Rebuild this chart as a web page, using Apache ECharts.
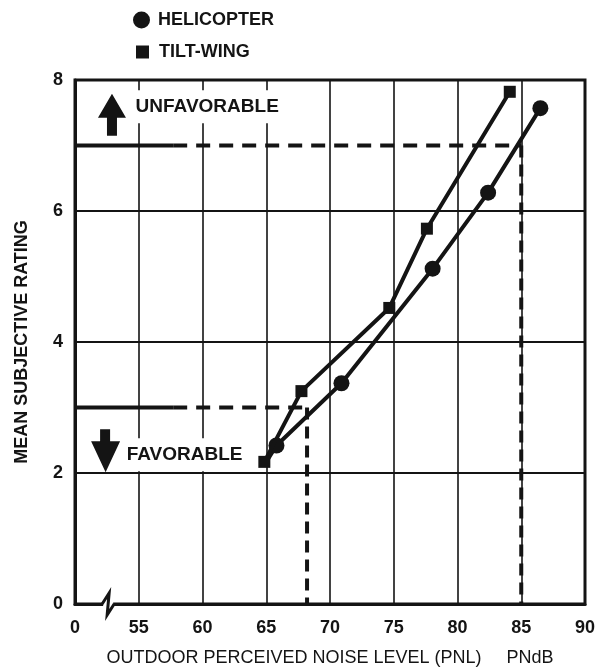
<!DOCTYPE html>
<html>
<head>
<meta charset="utf-8">
<script src="https://cdn.jsdelivr.net/npm/echarts@6/dist/echarts.min.js"></script>
<style>
  html, body { margin: 0; padding: 0; background: #fff; }
  #chart { width: 605px; height: 672px; }
</style>
</head>
<body>
<div id="chart"></div>
<script>
const FONT = "'Liberation Sans', Arial, Helvetica, sans-serif";
const INK = '#141414';

// outdoor PNL (PNdB) vs mean subjective rating
const heliNoise  = [65.0, 65.8, 70.9, 78.05, 82.4, 86.5];
const heliRating = [2.17, 2.42, 3.37, 5.12, 6.28, 7.57];
const tiltNoise  = [64.85, 67.76, 74.65, 77.6, 84.1];
const tiltRating = [2.17, 3.25, 4.52, 5.73, 7.82];

// threshold guides (rating level -> noise level)
const guideRating = [7, 3];
const guideNoise = [85, 68.2];
const guideSolidEnd = 57.7;

// x axis starts at 50 but is printed as a broken axis with "0"
const xMin = 50, xMax = 90, xStep = 5;
const yMin = 0, yMax = 8, yStep = 2;

const heliData = heliNoise.map((x, i) =>
  i === 0 ? { value: [x, heliRating[i]], symbol: 'none' } : [x, heliRating[i]]);
const tiltData = tiltNoise.map((x, i) => [x, tiltRating[i]]);

const arrowUp = 'path://M14,0 L28,24 L19,24 L19,42 L9,42 L9,24 L0,24 Z';
const arrowDown = 'path://M9,0 L19,0 L19,12 L29,12 L14.5,43 L0,12 L9,12 Z';

function guideSeries(level, noise) {
  const base = { type: 'line', symbol: 'none', silent: true, z: 3 };
  return [
    Object.assign({}, base, { data: [[xMin, level], [guideSolidEnd, level]],
      lineStyle: { width: 4, color: INK } }),
    Object.assign({}, base, { data: [[guideSolidEnd, level], [noise, level]],
      lineStyle: { width: 4, color: INK, type: [14, 9] } }),
    Object.assign({}, base, { data: [[noise, level], [noise, 0]],
      lineStyle: { width: 4, color: INK, type: [12, 7] } })
  ];
}

const legendText = { fontSize: 18, fontWeight: 'bold', color: INK, fontFamily: FONT };

const option = {
  animation: false,
  backgroundColor: '#fff',
  textStyle: { fontFamily: FONT },
  legend: [
    { data: [{ name: 'HELICOPTER', icon: 'circle' }], left: 128, top: 6,
      itemWidth: 17, itemHeight: 17, selectedMode: false,
      textStyle: Object.assign({ padding: [0, 0, 0, 3] }, legendText) },
    { data: [{ name: 'TILT-WING', icon: 'rect' }], left: 131, top: 38,
      itemWidth: 13, itemHeight: 13, selectedMode: false,
      textStyle: Object.assign({ padding: [0, 0, 0, 5] }, legendText) }
  ],
  grid: { left: 75, right: 20, top: 80, bottom: 67, show: true,
    borderColor: INK, borderWidth: 3, backgroundColor: 'transparent' },
  xAxis: {
    type: 'value', min: xMin, max: xMax, interval: xStep,
    name: 'OUTDOOR PERCEIVED NOISE LEVEL (PNL)     PNdB',
    nameLocation: 'middle', nameGap: 45,
    nameTextStyle: { fontSize: 18, color: INK, fontFamily: FONT },
    axisLine: { lineStyle: { color: INK, width: 3 } },
    axisTick: { show: false },
    axisLabel: { fontSize: 18, fontWeight: 'bold', color: INK, margin: 15,
      formatter: v => (v === xMin ? '0' : String(v)) },
    splitLine: { show: true, lineStyle: { color: INK, width: 1.6 } }
  },
  yAxis: {
    type: 'value', min: yMin, max: yMax, interval: yStep,
    name: 'MEAN SUBJECTIVE RATING', nameLocation: 'middle', nameGap: 44,
    nameTextStyle: { fontSize: 18, fontWeight: 'bold', color: INK, fontFamily: FONT },
    axisLine: { lineStyle: { color: INK, width: 3 } },
    axisTick: { show: false },
    axisLabel: { fontSize: 18, fontWeight: 'bold', color: INK, margin: 12 },
    splitLine: { show: true, lineStyle: { color: INK, width: 2 } }
  },
  series: [
    ...guideSeries(guideRating[0], guideNoise[0]),
    ...guideSeries(guideRating[1], guideNoise[1]),
    {
      name: 'HELICOPTER', type: 'line', data: heliData,
      symbol: 'circle', symbolSize: 16, z: 5,
      lineStyle: { width: 4, color: INK }, itemStyle: { color: INK }
    },
    {
      name: 'TILT-WING', type: 'line', data: tiltData,
      symbol: 'rect', symbolSize: 12, z: 6,
      lineStyle: { width: 4, color: INK }, itemStyle: { color: INK }
    },
    {
      type: 'scatter', silent: true, z: 4,
      itemStyle: { color: INK, opacity: 1 },
      data: [
        { value: [52.9, 7.47], symbol: arrowUp, symbolSize: [28, 42] },
        { value: [52.4, 2.34], symbol: arrowDown, symbolSize: [29, 43] }
      ]
    },
    {
      type: 'scatter', silent: true, z: 4, symbolSize: 1,
      itemStyle: { color: '#fff', opacity: 1 },
      label: {
        show: true, position: 'right', distance: 0, formatter: '{b}',
        backgroundColor: '#fff', padding: [7, 4], opacity: 1,
        fontSize: 19, fontWeight: 'bold', color: INK, fontFamily: FONT
      },
      data: [
        { name: 'UNFAVORABLE', value: [54.4, 7.59] },
        { name: 'FAVORABLE', value: [53.7, 2.28] }
      ]
    }
  ]
};

const chart = echarts.init(document.getElementById('chart'));
chart.setOption(option);

// axis break mark between "0" and 55
const bp = chart.convertToPixel({ gridIndex: 0 }, [52.6, 0]);
chart.setOption({
  graphic: [
    { type: 'rect', z: 100, shape: { x: bp[0] - 5, y: bp[1] - 3, width: 10, height: 6 },
      style: { fill: '#fff' } },
    { type: 'polyline', z: 101,
      shape: { points: [[bp[0] - 6, bp[1]], [bp[0] + 1, bp[1] - 11], [bp[0] - 1, bp[1] + 11], [bp[0] + 6, bp[1]]] },
      style: { stroke: INK, lineWidth: 3, fill: null } }
  ]
});
</script>
</body>
</html>
